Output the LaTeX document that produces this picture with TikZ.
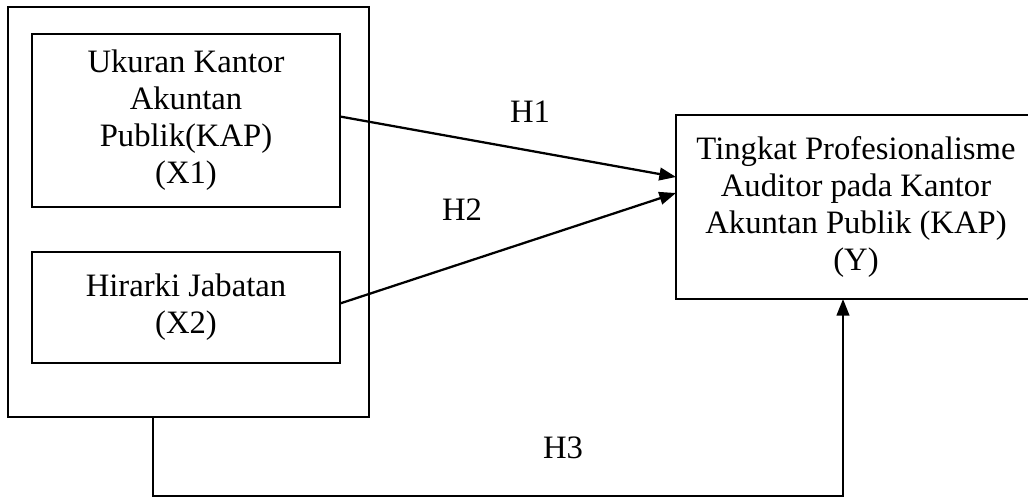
\documentclass[tikz,border=0pt]{standalone}
\usepackage{fontspec}
\setmainfont{Liberation Serif}
\usepackage{tikz}
\usetikzlibrary{arrows.meta,positioning}

\begin{document}
\begin{tikzpicture}[
    x=0.75pt, y=-0.75pt,
    every node/.style={font=\fontsize{24.5}{27.8}\selectfont},
    box/.style={draw, line width=1.3pt, inner sep=0pt, outer sep=0pt, align=center},
    lbl/.style={inner sep=0pt},
    arr/.style={draw, line width=1.7pt, -{Triangle[length=12.5pt, width=9.5pt]}},
]
\useasboundingbox (0,0) rectangle (1028,497);
\node[box, minimum width=270.75pt, minimum height=307.5pt] (indep) at (188.5,212) {};
\node[box, minimum width=231pt, minimum height=129.75pt] (kap) at (186,120.5)
  {Ukuran Kantor\\Akuntan\\Publik(KAP)\\(X1)};
\node[box, minimum width=231pt, minimum height=83.25pt] (jabatan) at (186,307.5)
  {Hirarki Jabatan\\(X2)};
\node[box, draw=none, minimum width=270pt, minimum height=138pt] (prof) at (856,207)
  {Tingkat Profesionalisme\\Auditor pada Kantor\\Akuntan Publik (KAP)\\(Y)};
% The page cuts the right side of the Y box off.
\draw[line width=1.3pt] (prof.north east) -- (prof.north west) -- (prof.south west) -- (prof.south east);
% Hypothesis labels.
\node[lbl] (h1) at (530,112) {H1};
\node[lbl] (h2) at (462,210) {H2};
\node[lbl] (h3) at (563,448) {H3};
\draw[arr] ([yshift=3pt]kap.east) -- ([yshift=22.5pt]prof.west);
\draw[arr] ([yshift=3pt]jabatan.east) -- ([yshift=10.5pt]prof.west);
\coordinate (h3start) at (153,417);
\coordinate (h3end) at (843,496);
\draw[arr] (h3start) -- (h3start |- h3end) -- (h3end) -- (h3end |- prof.south);
\end{tikzpicture}
\end{document}
